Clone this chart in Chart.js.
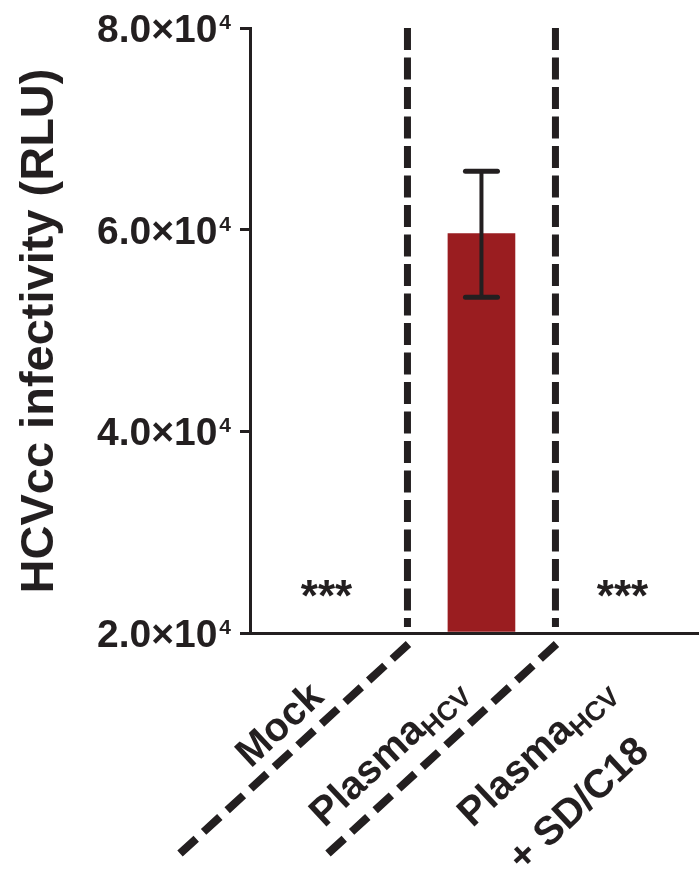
<!DOCTYPE html>
<html><head><meta charset="utf-8">
<script src="https://cdn.jsdelivr.net/npm/chart.js@4/dist/chart.umd.min.js"></script>
<style>html,body{margin:0;padding:0;background:#fff;overflow:hidden}#wrap{width:699px;height:882px;position:relative}</style>
</head><body><div id="wrap"><canvas id="c" width="699" height="882"></canvas></div>
<script>
// ---- data ----
const categories = ['Mock', 'Plasma', 'Plasma'];
const categorySubscripts = ['', 'HCV', 'HCV'];
const categorySecondLines = ['', '', '+ SD/C18'];
const meanValues = [null, 59600, null];
const errorHigh = [null, 65800, null];
const errorLow = [null, 53300, null];
const significance = ['***', '', '***'];
const yTicks = [20000, 40000, 60000, 80000];
const yTickMantissas = ['2.0', '4.0', '6.0', '8.0'];
const yTickExponent = '4';
const yTitle = 'HCVcc infectivity (RLU)';

const INK = '#231f20';
const FONT = '"Liberation Sans", Arial, Helvetica, sans-serif';
const ANG = -43 * Math.PI / 180;

function drawParts(ctx, x, y, ang, parts, alongShift, downShift) {
  ctx.save();
  ctx.translate(x, y);
  ctx.rotate(ang);
  let total = 0;
  parts.forEach(p => { ctx.font = p.font; p.w = ctx.measureText(p.text).width; total += p.w; });
  let cx = -total + (alongShift || 0);
  ctx.textAlign = 'left';
  ctx.textBaseline = 'alphabetic';
  parts.forEach(p => { ctx.font = p.font; ctx.fillText(p.text, cx, (p.dy || 0) + (downShift || 0)); cx += p.w; });
  ctx.restore();
}

const overlay = {
  id: 'overlay',
  afterDraw(chart) {
    const ctx = chart.ctx;
    const xs = chart.scales.x, ys = chart.scales.y;
    const area = chart.chartArea;
    ctx.save();
    ctx.fillStyle = INK;
    ctx.strokeStyle = INK;

    // error bars
    for (let i = 0; i < categories.length; i++) {
      if (errorHigh[i] == null) continue;
      const cx = xs.getPixelForValue(i);
      const yh = ys.getPixelForValue(errorHigh[i]);
      const yl = ys.getPixelForValue(errorLow[i]);
      ctx.lineCap = 'butt';
      ctx.lineWidth = 4;
      ctx.beginPath(); ctx.moveTo(cx, yh); ctx.lineTo(cx, yl); ctx.stroke();
      ctx.lineCap = 'round';
      ctx.lineWidth = 5;
      ctx.beginPath(); ctx.moveTo(cx - 16, yh); ctx.lineTo(cx + 16, yh); ctx.stroke();
      ctx.beginPath(); ctx.moveTo(cx - 16, yl); ctx.lineTo(cx + 16, yl); ctx.stroke();
    }

    // dashed separators between categories
    ctx.lineCap = 'butt';
    for (let i = 0; i < categories.length - 1; i++) {
      const bx = xs.getPixelForValue(i + 0.5);
      ctx.lineWidth = 7;
      ctx.setLineDash([22, 7.5]);
      ctx.beginPath(); ctx.moveTo(bx, area.top); ctx.lineTo(bx, area.bottom - 6); ctx.stroke();
      ctx.lineWidth = 8;
      ctx.setLineDash([22, 10]);
      ctx.beginPath(); ctx.moveTo(bx + 1, area.bottom + 11); ctx.lineTo(bx + 1 - 228.5, area.bottom + 11 + 209.6); ctx.stroke();
    }
    ctx.setLineDash([]);

    // significance stars
    ctx.font = 'bold 44px ' + FONT;
    ctx.textAlign = 'center';
    ctx.textBaseline = 'alphabetic';
    for (let i = 0; i < categories.length; i++) {
      if (!significance[i]) continue;
      ctx.fillText(significance[i], xs.getPixelForValue(i) - 7, 611);
    }

    // y tick labels
    yTicks.forEach((v, k) => {
      const y = ys.getPixelForValue(v);
      const right = area.left - 19;
      ctx.font = 'bold 21px ' + FONT;
      ctx.textAlign = 'right';
      const ew = ctx.measureText(yTickExponent).width;
      ctx.fillText(yTickExponent, right, y + 1);
      ctx.font = 'bold 39px ' + FONT;
      ctx.fillText(yTickMantissas[k] + '\u00d710', right - ew - 2, y + 14);
    });

    // y title
    ctx.save();
    ctx.translate(53, 331);
    ctx.rotate(-Math.PI / 2);
    ctx.font = 'bold 47px ' + FONT;
    ctx.textAlign = 'center';
    ctx.textBaseline = 'alphabetic';
    ctx.fillText(yTitle, 0, 0);
    ctx.restore();

    // x category labels
    for (let i = 0; i < categories.length; i++) {
      const ax = xs.getPixelForValue(i) - 8;
      const ay = area.bottom + 66;
      const parts = [{ text: categories[i], font: 'bold 40px ' + FONT }];
      if (categorySubscripts[i]) parts.push({ text: categorySubscripts[i], font: 'bold 27px ' + FONT, dy: 7 });
      drawParts(ctx, ax, ay, ANG, parts, 0, categorySubscripts[i] ? -7 : 0);
      if (categorySecondLines[i]) {
        drawParts(ctx, ax, ay, ANG, [{ text: categorySecondLines[i], font: 'bold 40px ' + FONT }], -16, 60);
      }
    }
    ctx.restore();
  }
};

new Chart(document.getElementById('c'), {
  type: 'bar',
  data: {
    datasets: [{
      data: meanValues.map((v, i) => ({ x: i, y: v })),
      backgroundColor: '#9a1d20',
      borderWidth: 0,
      barThickness: 67,
      base: 20000
    }]
  },
  options: {
    responsive: false,
    animation: false,
    devicePixelRatio: 1,
    layout: { padding: { left: 240, top: 28, right: 0, bottom: 249 } },
    plugins: { legend: { display: false }, tooltip: { enabled: false } },
    scales: {
      x: {
        type: 'linear', min: -0.564, max: 2.47, offset: false,
        ticks: { display: false },
        grid: { display: false, drawTicks: false },
        border: { display: true, width: 3, color: INK }
      },
      y: {
        min: 20000, max: 80000,
        afterBuildTicks: s => { s.ticks = yTicks.map(v => ({ value: v })); },
        ticks: { display: false },
        grid: { display: true, drawOnChartArea: false, drawTicks: true, tickLength: 10, lineWidth: 3, color: INK },
        border: { display: true, width: 3, color: INK }
      }
    }
  },
  plugins: [overlay]
});
</script>
</body></html>
